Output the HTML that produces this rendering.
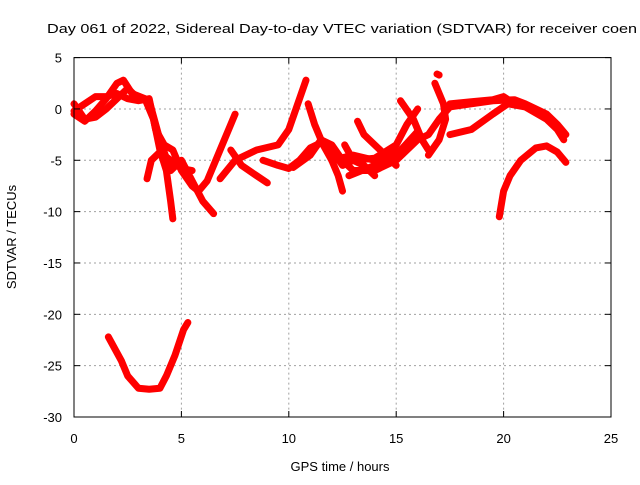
<!DOCTYPE html>
<html><head><meta charset="utf-8"><style>
body{margin:0;background:#fff;}
svg text{font-family:"Liberation Sans",sans-serif;font-size:13px;fill:#000;}
</style></head><body>
<svg width="640" height="480" viewBox="0 0 640 480">
<g id="grid"></g><g id="tracks"></g><g id="axes"></g>
</svg>
<script>
const xTicks=[0,5,10,15,20,25];
const yTicks=[5,0,-5,-10,-15,-20,-25,-30];
const trackA=[[0,0.5],[0.5,-1],[1,-0.8],[1.5,0],[2,1],[2.5,2],[3,1],[3.5,0.8],[4,-3],[4.5,-6],[5,-5],[5.5,-7],[6,-9],[6.5,-10.2]];
const trackB=[[0,-0.5],[0.5,-1.2],[1,-0.2],[1.5,1],[2,2.5],[2.3,2.8],[2.7,1.5],[3.3,1],[3.7,-1],[4,-4],[4.3,-6],[4.5,-9],[4.6,-10.7]];
const trackC=[[0,-0.2],[0.5,0.5],[1,1.2],[1.5,1.2],[2,1.5],[2.5,1],[3,0.8],[3.5,1],[3.8,-2],[4.2,-3.5],[4.6,-4],[5,-6],[5.5,-7.5],[5.8,-8],[6.2,-7],[6.8,-4],[7.5,-0.5]];
const trackD=[[3.4,-6.8],[3.6,-5],[4,-4.2],[4.5,-5],[5,-5.8],[5.5,-6]];
const trackE1=[[7.3,-4],[7.8,-5.5],[8.5,-6.5],[9,-7.2]];
const trackE2=[[6.8,-6.8],[7.5,-5],[8.5,-4],[9.5,-3.5],[10,-2],[10.5,1],[10.8,2.8]];
const trackF=[[8.8,-5],[9.5,-5.5],[10,-5.8],[10.5,-5],[11,-3.8],[11.5,-3.3],[12,-4],[12.5,-5.5],[13,-5],[14,-4.8],[15,-3.5],[15.5,-1.5],[16,0]];
const trackG=[[10.2,-5.7],[11,-4.5],[11.5,-3],[12,-3.5],[12.5,-5],[13,-6],[14,-6],[15,-5],[16,-3],[16.5,-2.5],[17,-1],[17.5,0.2],[18.5,0.5],[19.5,0.8],[20.5,0.9],[21,0.5],[21.5,0],[22,-0.5],[22.5,-1.5],[22.9,-2.5]];
const trackH=[[10.9,0.5],[11.2,-1.5],[11.6,-3.5],[12,-5],[12.3,-6.5],[12.5,-8]];
const trackI=[[12.6,-3.5],[13,-5],[13.5,-5.5],[14,-6.5]];
const trackJ=[[13.2,-1.2],[13.5,-2.5],[14,-3.5],[14.5,-4.5],[15,-5.5]];
const trackK=[[15.2,0.8],[15.8,-1],[16.2,-3],[16.5,-4]];
const trackL=[[16.8,2.5],[17.2,0.5],[17.3,-1],[17,-3],[16.5,-4.5]];
const trackM=[[17.5,-2.5],[18.5,-2],[19.5,-0.5],[20.2,0.5],[21,0.2],[22,-1],[22.5,-2],[22.8,-3]];
const trackN=[[17.5,0.5],[18.5,0.7],[19.5,0.9],[20,1.2],[20.5,0.5]];
const trackO=[[19.8,-10.5],[20,-8],[20.3,-6.5],[20.8,-5],[21.5,-3.8],[22,-3.6],[22.5,-4.2],[22.9,-5.2]];
const trackP=[[1.6,-22.2],[2.2,-24.5],[2.5,-26],[3,-27.2],[3.5,-27.3],[4,-27.2],[4.3,-26],[4.7,-24],[5.1,-21.5],[5.3,-20.8]];
const trackQ=[[16.9,3.4],[17,3.3]];
const trackR=[[12,-5],[13,-4.5],[14,-5],[15,-4]];
const trackS=[[12.8,-6.5],[14,-5.5],[15,-4.5],[16,-2.2]];
const tracks=[trackA,trackB,trackC,trackD,trackE1,trackE2,trackF,trackG,trackH,trackI,trackJ,trackK,trackL,trackM,trackN,trackO,trackP,trackQ,trackR,trackS];

const X0=74,X1=611,Y0=57.6,Y1=417;
const sx=h=>X0+(h-0)/25*(X1-X0);
const sy=v=>Y0+(5-v)/35*(Y1-Y0);
const NS="http://www.w3.org/2000/svg";
function mk(t,a,p){const e=document.createElementNS(NS,t);for(const k in a)e.setAttribute(k,a[k]);p.appendChild(e);return e;}
const grid=document.getElementById('grid'),axes=document.getElementById('axes'),tg=document.getElementById('tracks');
xTicks.forEach(t=>{
 if(t>0&&t<25){const g=mk('line',{x1:sx(t),x2:sx(t),y1:Y0,y2:Y1,stroke:'#a0a0a0','stroke-dasharray':'2,3'},grid);
 
 }
 const tk=mk('line',{x1:sx(t),x2:sx(t),y1:Y1,y2:Y1-6,stroke:'#000'},axes);
 
 
 const tk2=mk('line',{x1:sx(t),x2:sx(t),y1:Y0,y2:Y0+6,stroke:'#000'},axes);
 
 
 const l=mk('text',{x:sx(t),y:Y1+26,'text-anchor':'middle'},axes);l.textContent=t;
 
 
});
yTicks.forEach(t=>{
 if(t<5&&t>-30){const g=mk('line',{x1:X0,x2:X1,y1:sy(t),y2:sy(t),stroke:'#a0a0a0','stroke-dasharray':'2,3'},grid);
 
 }
 const tk=mk('line',{x1:X0,x2:X0+6,y1:sy(t),y2:sy(t),stroke:'#000'},axes);
 
 
 const tk2=mk('line',{x1:X1,x2:X1-6,y1:sy(t),y2:sy(t),stroke:'#000'},axes);
 
 
 const l=mk('text',{x:X0-12,y:sy(t)+5,'text-anchor':'end'},axes);l.textContent=t;
 
 
});
const fr=mk('rect',{x:X0,y:Y0,width:X1-X0,height:Y1-Y0,fill:'none',stroke:'#000'},axes);


tracks.forEach(tr=>{
 const p=mk('polyline',{points:tr.map(d=>sx(d[0])+','+sy(d[1])).join(' '),fill:'none',stroke:'#ff0000','stroke-width':7,'stroke-linejoin':'round','stroke-linecap':'round'},tg);
 
 
});
const t=mk('text',{x:47,y:33,textLength:590,lengthAdjust:'spacingAndGlyphs',style:'font-size:13px'},axes);t.textContent='Day 061 of 2022, Sidereal Day-to-day VTEC variation (SDTVAR) for receiver coen';


const xl=mk('text',{x:340,y:471,'text-anchor':'middle'},axes);xl.textContent='GPS time / hours';


const yl=mk('text',{x:16,y:237,'text-anchor':'middle',transform:'rotate(-90 16 237)'},axes);yl.textContent='SDTVAR / TECUs';


</script>
</body></html>
